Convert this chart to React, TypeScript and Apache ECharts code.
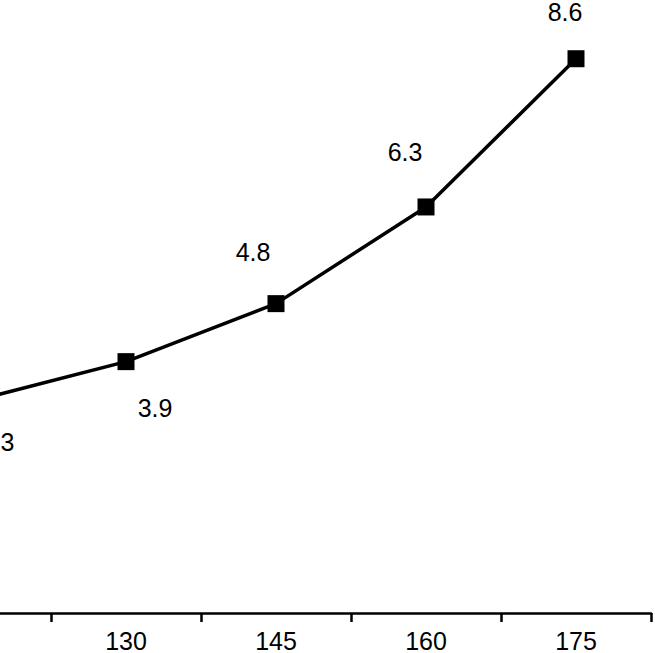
import React, { useEffect, useRef } from "react";
import * as echarts from "echarts";

const categories = ["115", "130", "145", "160", "175"];
const values = [3.3, 3.9, 4.8, 6.3, 8.6];
const labelOffsets: [number, number][] = [
  [21, 42],
  [29, 46],
  [-23, -52],
  [-21, -55],
  [-11, -47],
];

const SHIFT_X = 99;
const SHIFT_Y = 32;

export default function App() {
  const ref = useRef<HTMLDivElement>(null);
  useEffect(() => {
    if (!ref.current) return;
    const chart = echarts.init(ref.current, null, { renderer: "svg" });
    chart.setOption({
      animation: false,
      backgroundColor: "#ffffff",
      grid: { left: 0, right: 4, top: 0.5, bottom: 39.5 },
      xAxis: {
        type: "category",
        data: categories,
        boundaryGap: true,
        axisLine: { show: true, lineStyle: { color: "#000", width: 2.5 } },
        axisTick: { show: true, length: 9, lineStyle: { color: "#000", width: 2.5 } },
        axisLabel: {
          color: "#000",
          fontSize: 25,
          fontFamily: "Liberation Sans, Arial, sans-serif",
          margin: 15,
        },
        splitLine: { show: false },
      },
      yAxis: {
        type: "value",
        min: 0,
        max: 10,
        show: false,
        splitLine: { show: false },
      },
      series: [
        {
          type: "line",
          clip: false,
          data: values.map((v, i) => ({
            value: v,
            label: { offset: labelOffsets[i] },
          })),
          symbol: "rect",
          symbolSize: 17,
          itemStyle: { color: "#000" },
          lineStyle: { color: "#000", width: 3.5 },
          label: {
            show: true,
            position: "inside",
            color: "#000",
            fontSize: 25,
            fontFamily: "Liberation Sans, Arial, sans-serif",
            formatter: (p: any) => p.value.toFixed(1),
          },
        },
      ],
    });
    return () => chart.dispose();
  }, []);
  return (
    <div
      style={{
        position: "absolute",
        left: 0,
        top: 0,
        width: 655,
        height: 653,
        overflow: "hidden",
        background: "#fff",
      }}
    >
      <div
        ref={ref}
        style={{
          position: "absolute",
          left: -SHIFT_X,
          top: -SHIFT_Y,
          width: 655 + SHIFT_X,
          height: 653 + SHIFT_Y,
        }}
      />
    </div>
  );
}
